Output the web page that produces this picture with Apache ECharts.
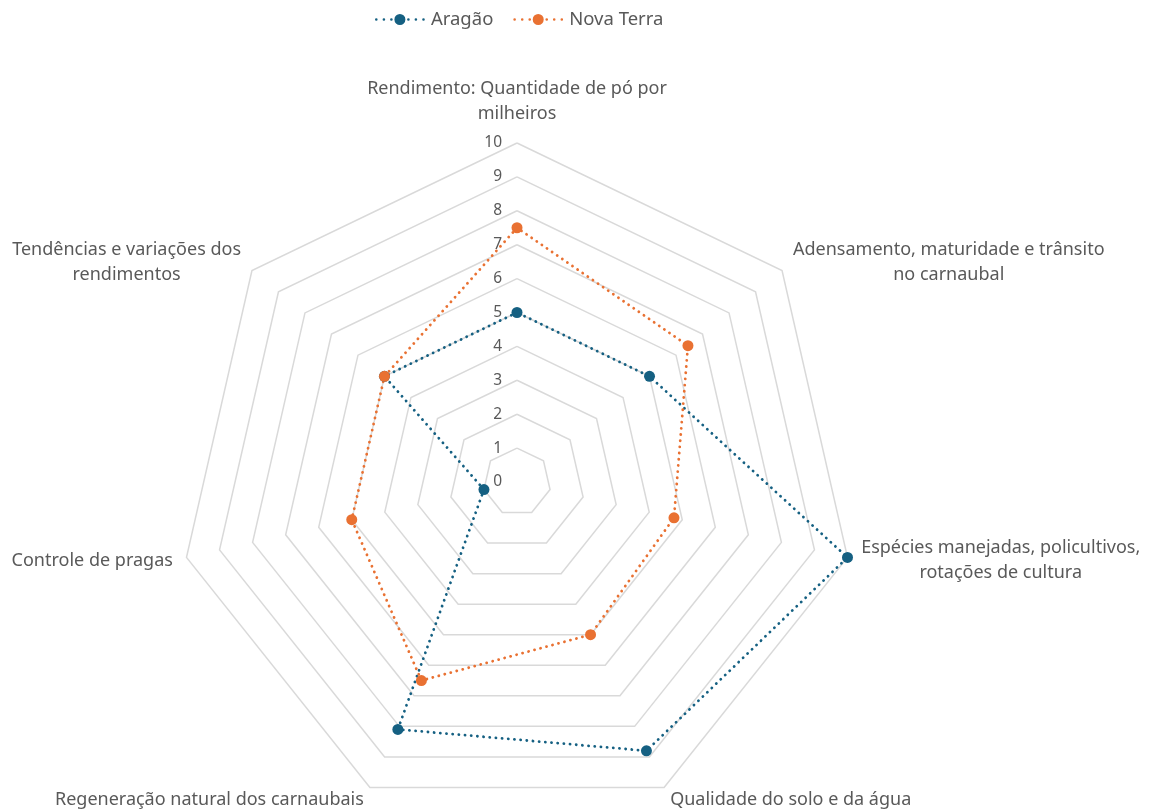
<!DOCTYPE html>
<html>
<head>
<meta charset="utf-8">
<script src="https://cdn.jsdelivr.net/npm/echarts@6/dist/echarts.min.js"></script>
<style>
html,body{margin:0;padding:0;background:#fff;}
#chart{width:1156px;height:812px;}
</style>
</head>
<body>
<div id="chart"></div>
<script>
// Categories in clockwise order starting at the top
const categories = [
  "Rendimento: Quantidade de pó por\nmilheiros",
  "Adensamento, maturidade e trânsito\nno carnaubal",
  "Espécies manejadas, policultivos,\nrotações de cultura",
  "Qualidade do solo e da água",
  "Regeneração natural dos carnaubais",
  "Controle de pragas",
  "Tendências e variações dos\nrendimentos"
];
const seriesNames = ["Aragão", "Nova Terra"];
const aragao = [5, 5, 10, 8.8, 8.1, 1, 5];
const novaTerra = [7.5, 6.45, 4.75, 5, 6.5, 5, 5];
const axisMax = 10;
const colors = ["#156082", "#E97132"];

// ECharts radar runs counter-clockwise; reorder to keep the picture's clockwise layout
const order = [0, 6, 5, 4, 3, 2, 1];
const reorder = arr => order.map(i => arr[i]);

const textColor = "#595959";
const fontFamily = "Noto Sans";
const nameSize = 18;

function circ(cx, cy, r) {
  return "M" + (cx - r) + "," + cy + "a" + r + "," + r + " 0 1,0 " + (2 * r) + ",0a" + r + "," + r + " 0 1,0 " + (-2 * r) + ",0Z";
}
const iconPath = "path://" + [1.4, 9, 16.5].map(x => circ(x, 6, 1.3)).join("") +
  circ(25, 6, 5.5) + [33.5, 41, 48.6].map(x => circ(x, 6, 1.3)).join("");

const indicators = reorder(categories).map((name, i) => {
  const ind = { name: name, max: axisMax, min: 0 };
  if (i === 0) {
    ind.axisLabel = { show: true };
    ind.nameGap = 17;
  }
  return ind;
});

const chart = echarts.init(document.getElementById("chart"));
chart.setOption({
  backgroundColor: "#ffffff",
  animation: false,
  color: colors,
  legend: {
    top: 5,
    left: 370,
    itemWidth: 50,
    itemHeight: 11,
    itemGap: 20,
    data: seriesNames.map(n => ({ name: n, icon: iconPath })),
    itemStyle: { borderWidth: 0 },
    textStyle: { color: textColor, fontSize: 18.5, fontFamily: fontFamily, padding: [0, 0, 0, 1] }
  },
  radar: {
    center: [517, 482],
    radius: 339,
    startAngle: 90,
    shape: "polygon",
    splitNumber: 10,
    nameGap: 14,
    axisName: {
      color: textColor,
      fontSize: nameSize,
      fontFamily: fontFamily,
      lineHeight: 25,
      formatter: function (name) {
        return name.split("\n").map(l => "{c|" + l + "}").join("\n");
      },
      rich: {
        c: { align: "center", color: textColor, fontSize: nameSize, fontFamily: fontFamily, lineHeight: 25 }
      }
    },
    axisLine: { show: false },
    axisTick: { show: false },
    axisLabel: { show: false, color: textColor, fontSize: 15.5, fontFamily: fontFamily, margin: 15 },
    splitLine: { lineStyle: { color: "#D9D9D9", width: 1.5 } },
    splitArea: { show: false },
    indicator: indicators
  },
  series: [{
    type: "radar",
    symbol: "circle",
    symbolSize: 11,
    data: [aragao, novaTerra].map((vals, k) => ({
      name: seriesNames[k],
      value: reorder(vals),
      itemStyle: { color: colors[k] },
      lineStyle: { color: colors[k], width: 2.8, type: [0.1, 6.1], cap: "round" }
    }))
  }]
});
</script>
</body>
</html>
